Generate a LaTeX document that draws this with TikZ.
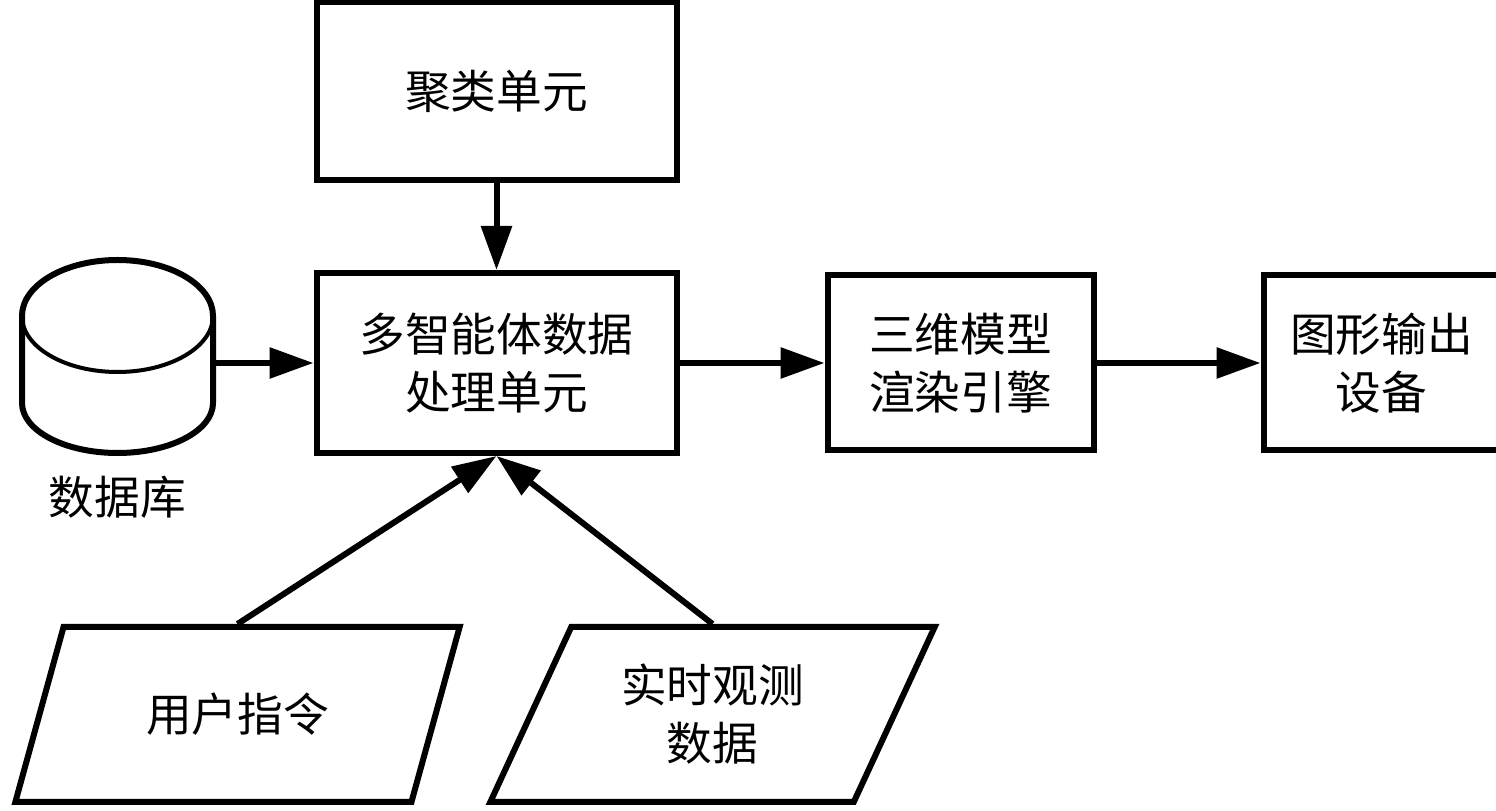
\documentclass[tikz,border=0pt]{standalone}
\usepackage{fontspec}
\setmainfont{Noto Sans CJK SC}
\usetikzlibrary{shapes.geometric,positioning,arrows.meta}

\begin{document}
\begin{tikzpicture}[line width=0.12cm, >={Triangle[length=0.88cm,width=0.6cm]}, main/.style = {draw, rectangle, align=center, font=\fontsize{26}{33}\selectfont}, db/.style = {rectangle, outer sep=0pt, minimum width=3.82cm, minimum height=3.86cm}, io/.style = {draw, trapezium, trapezium left angle=63.6, trapezium right angle=116.4, trapezium stretches=true, minimum width=8.9cm, minimum height=3.5cm, align=center, font=\fontsize{26}{33}\selectfont}]
\useasboundingbox (0,0) rectangle (29.92,16.22);
\node[main,minimum width=7.2cm,minimum height=3.6cm] (3) at (9.93,8.96) {多智能体数据\\处理单元};
\node[main,minimum width=7.2cm,minimum height=3.56cm] (2) [above=1.74cm of 3] {聚类单元};
\node[main,minimum width=5.32cm,minimum height=3.5cm] (4) [right=2.9cm of 3] {三维模型\\渲染引擎};
\node[main,minimum width=4.72cm,minimum height=3.5cm] (5) [right=3.28cm of 4] {图形输出\\设备};
\node[db] (1) at (2.35,9.09) {};
\node[font=\fontsize{26}{33}\selectfont, inner sep=0pt] (8) [below=0.4cm of 1] {数据库};
\node[io] (6) at (4.75,1.93) {用户指令};
\node[io] (7) at (14.25,1.93) {实时观测\\数据};

% database cylinder
\draw ([yshift=-1.12cm]1.north west) -- ([yshift=1.0cm]1.south west) arc[start angle=180, end angle=360, x radius=1.91cm, y radius=1.0cm] -- ([yshift=-1.12cm]1.north east) arc[start angle=0, end angle=180, x radius=1.91cm, y radius=1.12cm] -- cycle;
\draw[line width=0.08cm] ([yshift=-1.12cm]1.north west) arc[start angle=180, end angle=360, x radius=1.91cm, y radius=1.12cm];

\draw[->] (2) -- (3);
\draw[->] ([xshift=0.06cm]1.east |- 3.west) -- (3.west);
\draw[->] (3) -- (4);
\draw[->] (4) -- (5);
\draw[->] (6.north) -- (3.south);
\draw[->] (7.north) -- (3.south);
\end{tikzpicture}
\end{document}
